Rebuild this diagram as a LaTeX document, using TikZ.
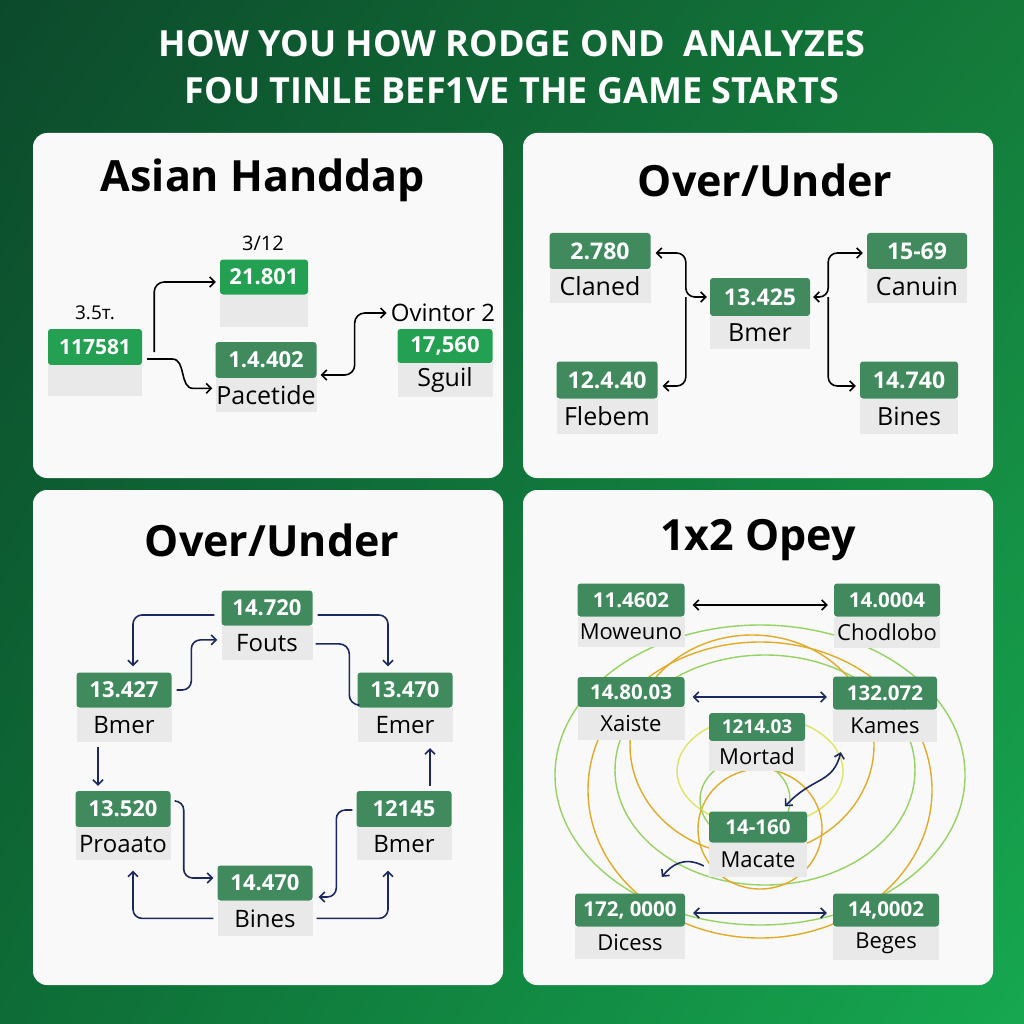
\documentclass[tikz,border=0pt]{standalone}
\usepackage{fontspec}
\setmainfont{Open Sans}
\usetikzlibrary{arrows.meta, positioning, calc, shadings}

\definecolor{bgdark}{RGB}{12,74,44}
\definecolor{bgtopr}{RGB}{20,122,58}
\definecolor{bgbotl}{RGB}{14,108,54}
\definecolor{bglight}{RGB}{22,168,80}
\definecolor{panelbg}{RGB}{248,249,248}
\definecolor{oddsgreen}{RGB}{36,160,82}
\definecolor{mutegreen}{RGB}{64,138,94}
\definecolor{labgrey}{RGB}{232,233,232}
\definecolor{navy1}{RGB}{28,40,96}
\definecolor{ringorange}{RGB}{226,170,40}
\definecolor{ringgreen}{RGB}{150,210,100}
\definecolor{ringyellow}{RGB}{222,228,100}

\tikzset{
  panel/.style={fill=panelbg, rounded corners=14pt},
  paneltitle/.style={font=\bfseries\fontsize{43}{47}\selectfont, text=black},
  valbox/.style={fill=mutegreen, text=white, rounded corners=3pt, minimum height=35pt, inner sep=0pt, font=\bfseries\fontsize{22}{24}\selectfont},
  labbox/.style={fill=labgrey, text=black, minimum height=33pt, inner sep=0pt, font=\fontsize{24}{26}\selectfont},
  blk/.style={draw=black, line width=1.6pt},
  nvy/.style={draw=navy1, line width=1.6pt},
  ring/.style={line width=1.4pt},
  >={Straight Barb[length=5pt,width=10pt]}
}

\begin{document}
\begin{tikzpicture}[x=1pt, y=-1pt]
  \useasboundingbox (0,0) rectangle (1024,1024);
  \shade[upper left=bgdark, upper right=bgtopr, lower left=bgbotl, lower right=bglight] (0,0) rectangle (1024,1024);

  % heading
  \node[font=\bfseries\fontsize{36}{47}\selectfont, text=white, align=center] (title) at (512,67)
    {HOW YOU HOW RODGE OND\ \ ANALYZES\\FOU TINLE BEF1VE THE GAME STARTS};

  % 4 panels
  \fill[panel] (33,133) rectangle (503,478);
  \fill[panel] (523,133) rectangle (993,478);
  \fill[panel] (33,490) rectangle (503,985);
  \fill[panel] (523,490) rectangle (993,985);

  \node[paneltitle] (h1) at (263,180) {Asian Handdap};
  \node[paneltitle] (h2) at (765,180) {Over/Under};
  \node[paneltitle] (h3) at (272,540) {Over/Under};
  \node[paneltitle] (h4) at (758,540) {1x2 Opey};

  % panel 1
  \node[valbox, fill=oddsgreen, minimum width=94pt, minimum height=36pt, font=\bfseries\fontsize{21}{23}\selectfont] (v11) at (95,347) {117581};
  \node[labbox, minimum width=94pt, minimum height=31pt, below=0pt of v11] (l11) {};
  \node[valbox, fill=oddsgreen, minimum width=88pt] (v12) at (264,277) {21.801};
  \node[labbox, minimum width=88pt, minimum height=32pt, below=0pt of v12] (l12) {};
  \node[valbox, minimum width=101pt, minimum height=36pt] (v13) at (266,360) {1.4.402};
  \node[labbox, minimum width=101pt, minimum height=34pt, font=\fontsize{25}{27}\selectfont, below=0pt of v13] (l13) {Pacetide};
  \node[valbox, fill=oddsgreen, minimum width=95pt, minimum height=34pt] (v14) at (445,346) {17,560};
  \node[labbox, minimum width=95pt, minimum height=34pt, font=\fontsize{25}{27}\selectfont, below=0pt of v14] (l14) {Sguil};
  \node[font=\fontsize{19}{21}\selectfont] (t11) at (95,313) {3.5т.};
  \node[font=\fontsize{20}{22}\selectfont] (t12) at (263,243) {3/12};
  \node[font=\fontsize{24}{26}\selectfont, inner sep=1pt] (t14) at (443,313) {Ovintor 2};

  \draw[blk, ->, rounded corners=10pt] ($(v11.east)+(12,5)$) |- ($(v12.west)+(-4,5)$);
  \draw[blk, ->] ($(v11.east)+(5,12)$) -- ++(25,0) to[out=0,in=180] ($(l13.west)+(-22,-7)$) -- ($(l13.west)+(-3,-7)$);
  \draw[blk, <->, rounded corners=10pt] ($(v13.east)+(4,15)$) -| ($(t14.west)+(-35,0)$) -- ($(t14.west)+(-3,0)$);

  % panel 2
  \node[valbox, minimum width=101pt, minimum height=36pt, font=\bfseries\fontsize{23}{25}\selectfont] (a2) at (600,251) {2.780};
  \node[labbox, minimum width=101pt, minimum height=34pt, font=\fontsize{25}{27}\selectfont, below=0pt of a2] (a2l) {Claned};
  \node[valbox, minimum width=101pt, minimum height=37pt, font=\bfseries\fontsize{23}{25}\selectfont] (b2) at (607,380) {12.4.40};
  \node[labbox, minimum width=101pt, minimum height=35pt, font=\fontsize{25}{27}\selectfont, below=0pt of b2] (b2l) {Flebem};
  \node[valbox, minimum width=100pt, minimum height=38pt, font=\bfseries\fontsize{23}{25}\selectfont] (c2) at (760,297) {13.425};
  \node[labbox, minimum width=100pt, font=\fontsize{25}{27}\selectfont, below=0pt of c2] (c2l) {Bmer};
  \node[valbox, minimum width=100pt, minimum height=36pt, font=\bfseries\fontsize{23}{25}\selectfont] (d2) at (917,251) {15-69};
  \node[labbox, minimum width=100pt, minimum height=34pt, font=\fontsize{25}{27}\selectfont, below=0pt of d2] (d2l) {Canuin};
  \node[valbox, minimum width=98pt, minimum height=37pt, font=\bfseries\fontsize{23}{25}\selectfont] (e2) at (909,380) {14.740};
  \node[labbox, minimum width=98pt, minimum height=35pt, font=\fontsize{25}{27}\selectfont, below=0pt of e2] (e2l) {Bines};

  \coordinate (jl) at ($(c2.west)+(-24,0)$);
  \coordinate (jr) at ($(c2.east)+(18,0)$);
  \draw[blk, <->, rounded corners=9pt] ($(a2.east)+(5,2)$) -| (jl) -- ($(c2.west)+(-3,0)$);
  \draw[blk, ->, rounded corners=9pt] (jl) |- ($(b2.east)+(5,6)$);
  \draw[blk, <->, rounded corners=9pt] ($(c2.east)+(3,0)$) -- (jr) |- ($(d2.west)+(-4,2)$);
  \draw[blk, ->, rounded corners=9pt] (jr) |- ($(e2.west)+(-4,6)$);

  % panel 3
  \node[valbox, minimum width=91pt] (p1) at (267,608) {14.720};
  \node[labbox, minimum width=91pt, minimum height=34pt, below=0pt of p1] (q1) {Fouts};
  \node[valbox, minimum width=95pt] (p2) at (124,690) {13.427};
  \node[labbox, minimum width=95pt, minimum height=34pt, below=0pt of p2] (q2) {Bmer};
  \node[valbox, minimum width=95pt] (p3) at (405,690) {13.470};
  \node[labbox, minimum width=95pt, minimum height=34pt, below=0pt of p3] (q3) {Emer};
  \node[valbox, minimum width=95pt, minimum height=36pt] (p4) at (123,809) {13.520};
  \node[labbox, minimum width=95pt, below=0pt of p4] (q4) {Proaato};
  \node[valbox, minimum width=95pt, minimum height=36pt] (p5) at (404,809) {12145};
  \node[labbox, minimum width=95pt, below=0pt of p5] (q5) {Bmer};
  \node[valbox, minimum width=95pt] (p6) at (265,883) {14.470};
  \node[labbox, minimum width=95pt, minimum height=35pt, below=0pt of p6] (q6) {Bines};

  \draw[nvy, ->, rounded corners=9pt] ($(p1.west)+(-7,7)$) -| ($(p2.north)+(9,-6)$);
  \draw[nvy, ->, rounded corners=9pt] ($(p1.east)+(5,7)$) -| ($(p3.north)+(-17,-6)$);
  \draw[nvy, ->, rounded corners=9pt] ($(p2.east)+(5,0)$) -| ($(q1.west)+(-30,-3)$) -- ($(q1.west)+(-4,-3)$);
  \draw[nvy, rounded corners=10pt] ($(q1.east)+(3,1)$) -| ($(p3.west)+(-8,15)$) -- ($(p3.west)+(0,15)$);
  \draw[nvy, ->] ($(q2.south)+(-26,5)$) -- ($(p4.north)+(-25,-5)$);
  \draw[nvy, ->, rounded corners=9pt] ($(p4.east)+(5,-8)$) -- ++(8,0) |- ($(p6.west)+(-4,-5)$);
  \draw[nvy, ->, rounded corners=9pt] ($(p5.west)+(-4,1)$) -- ++(-16,0) |- ($(p6.east)+(6,14)$);
  \draw[nvy, ->] ($(p5.north)+(26,-5)$) -- ($(q3.south)+(25,6)$);
  \draw[nvy, ->, rounded corners=9pt] ($(q6.west)+(-4,0)$) -| ($(q4.south)+(10,10)$);
  \draw[nvy, ->, rounded corners=9pt] ($(q6.east)+(4,0)$) -| ($(q5.south)+(-16,10)$);

  % panel 4 rings
  \draw[ring, ringgreen] (760,775) ellipse (205 and 150);
  \draw[ring, ringorange] (760,790) ellipse (172 and 148);
  \draw[ring, ringgreen] (765,770) ellipse (150 and 115);
  \draw[ring, ringorange] (752,745) ellipse (122 and 110);
  \draw[ring, ringyellow] (760,771) ellipse (83 and 55);
  \draw[ring, ringorange] (760,829) ellipse (62 and 60);
  \draw[ring, ringgreen] (745,800) ellipse (45 and 40);

  % panel 4 boxes
  \node[valbox, minimum width=107pt, minimum height=33pt, font=\bfseries\fontsize{20.5}{22}\selectfont] (r1) at (631,600) {11.4602};
  \node[labbox, minimum width=107pt, minimum height=30pt, font=\fontsize{22}{24}\selectfont, below=0pt of r1] (s1) {Moweuno};
  \node[valbox, minimum width=106pt, minimum height=33pt, font=\bfseries\fontsize{20.5}{22}\selectfont] (r2) at (887,600) {14.0004};
  \node[labbox, minimum width=106pt, minimum height=31pt, font=\fontsize{22}{24}\selectfont, below=0pt of r2] (s2) {Chodlobo};
  \node[valbox, minimum width=107pt, minimum height=30pt, font=\bfseries\fontsize{20.5}{22}\selectfont] (r3) at (631,692) {14.80.03};
  \node[labbox, minimum width=107pt, font=\fontsize{22}{24}\selectfont, below=0pt of r3] (s3) {Xaiste};
  \node[valbox, minimum width=104pt, minimum height=33pt, font=\bfseries\fontsize{20.5}{22}\selectfont] (r4) at (885,693) {132.072};
  \node[labbox, minimum width=104pt, minimum height=32pt, font=\fontsize{22}{24}\selectfont, below=0pt of r4] (s4) {Kames};
  \node[valbox, minimum width=96pt, minimum height=28pt, font=\bfseries\fontsize{19}{21}\selectfont] (r5) at (757,727) {1214.03};
  \node[labbox, minimum width=96pt, minimum height=30pt, font=\fontsize{22}{24}\selectfont, below=0pt of r5] (s5) {Mortad};
  \node[valbox, minimum width=98pt, minimum height=31pt, font=\bfseries\fontsize{20.5}{22}\selectfont] (r6) at (758,827) {14-160};
  \node[labbox, minimum width=98pt, minimum height=34pt, font=\fontsize{22}{24}\selectfont, below=0pt of r6] (s6) {Macate};
  \node[valbox, minimum width=110pt, minimum height=33pt, font=\bfseries\fontsize{20.5}{22}\selectfont] (r7) at (630,910) {172, 0000};
  \node[labbox, minimum width=110pt, minimum height=32pt, font=\fontsize{22}{24}\selectfont, below=0pt of r7] (s7) {Dicess};
  \node[valbox, minimum width=106pt, minimum height=33pt, font=\bfseries\fontsize{20.5}{22}\selectfont] (r8) at (886,910) {14,0002};
  \node[labbox, minimum width=106pt, font=\fontsize{22}{24}\selectfont, below=0pt of r8] (s8) {Beges};

  \draw[blk, <->] ($(r1.east)+(8,5)$) -- ($(r2.west)+(-6,5)$);
  \draw[nvy, <->] ($(r3.east)+(8,5)$) -- ($(r4.west)+(-6,4)$);
  \draw[nvy, <->] ($(r7.east)+(8,3)$) -- ($(r8.west)+(-6,3)$);
  \draw[nvy, <->] ($(s4.south west)+(8,10)$) .. controls +(-8,32) and +(28,-30) .. ($(r6.north)+(27,-5)$);
  \draw[nvy, ->] ($(s6.west)+(-5,6)$) .. controls +(-20,-10) and +(10,-12) .. ($(s6.west)+(-47,17)$);
\end{tikzpicture}
\end{document}
